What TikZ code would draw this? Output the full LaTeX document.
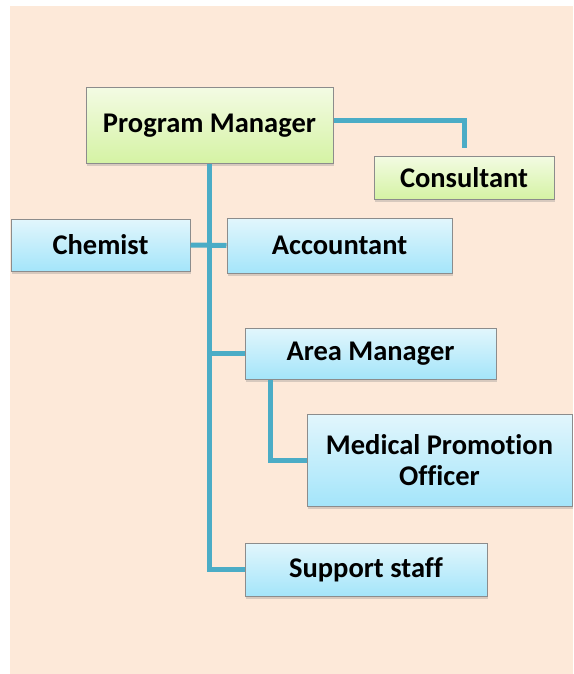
\documentclass[tikz,border=0pt]{standalone}
\usepackage{fontspec}
\setmainfont[RawFeature=-liga]{Carlito}
\usetikzlibrary{shadows}

\definecolor{peach}{HTML}{FDE9D9}
\definecolor{linkblue}{HTML}{4BACC6}
\definecolor{boxline}{HTML}{8C8C8C}
\definecolor{greentop}{HTML}{F3FBE3}
\definecolor{greenbot}{HTML}{D5F3A4}
\definecolor{bluetop}{HTML}{E2F6FC}
\definecolor{bluebot}{HTML}{A4E5FA}

\begin{document}
\begin{tikzpicture}[x=1pt, y=-1pt]
   \tikzstyle{every node}=[rectangle, draw=boxline, line width=1pt, align=center,
      font=\fontsize{28.5}{31}\selectfont\bfseries, inner sep=2pt,
      drop shadow={opacity=0.3, shadow xshift=1pt, shadow yshift=-3pt}]
   \tikzstyle{greenbox}=[top color=greentop, bottom color=greenbot]
   \tikzstyle{bluebox}=[top color=bluetop, bottom color=bluebot]
   \tikzstyle{link}=[draw=linkblue, line width=5pt]

\useasboundingbox (0,0) rectangle (573,674);
\fill[peach] (10,6) rectangle (573,674);

% boxes
\node[greenbox, minimum width=247pt, minimum height=75pt] (pm) at (209.5,125.5) {Program Manager};
\node[greenbox, minimum width=180pt, minimum height=43pt] (cons) at (464,177.5) {Consultant};
\node[bluebox, minimum width=179pt, minimum height=52pt] (chem) at (100.5,245) {Chemist};
\node[bluebox, minimum width=225pt, minimum height=55pt] (acct) at (339.5,245.5) {Accountant};
\node[bluebox, minimum width=251pt, minimum height=51pt] (am) at (370.5,353.5) {Area Manager};
\node[bluebox, minimum width=265pt, minimum height=92pt] (mpo) at (439.5,460) {Medical Promotion\\Officer};
\node[bluebox, minimum width=242pt, minimum height=53pt] (staff) at (366,569.5) {Support staff};

% connectors
\draw[link] ([yshift=4.5pt]pm.east) -| ([yshift=8pt]cons.north);
\draw[link] (pm.south) |- (staff.west);
\draw[link] (chem.east) -- (acct.west);
\draw[link] (pm.south |- am.west) -- (am.west);
\draw[link] ([xshift=26pt]am.south west) |- (mpo.west);

\end{tikzpicture}
\end{document}
